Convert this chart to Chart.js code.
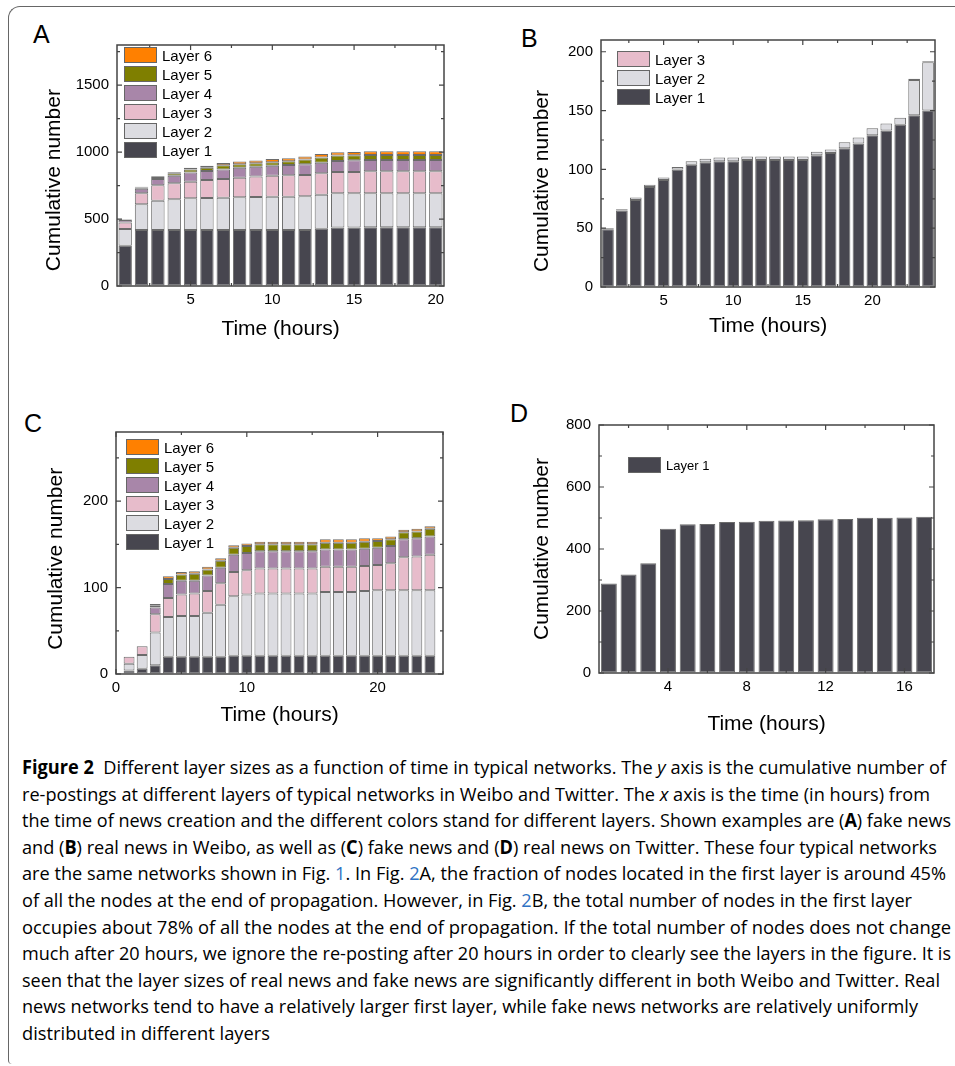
<!DOCTYPE html>
<html>
<head>
<meta charset="utf-8">
<title>Figure 2 - layer sizes over time</title>
<script src="https://cdn.jsdelivr.net/npm/chart.js@4.4.0/dist/chart.umd.min.js"></script>
<style>
    body { margin: 0; width: 955px; height: 1066px; background: #fff; position: relative; overflow: hidden;
           font-family: "Liberation Sans", Arial, sans-serif; color: #000; }
    /* rounded frame round the figure (left and top only) */
    .frame { position: absolute; left: 8px; top: 6px; width: 1000px; height: 1057px;
             border-left: 1px solid #666; border-top: 1px solid #666;
             border-top-left-radius: 12px; border-bottom-left-radius: 4px; }
    canvas { position: absolute; }
    .letter { position: absolute; font-size: 25px; line-height: 25px; }
    .legend { position: absolute; font-size: 15px; }
    .legend .row { height: 16px; margin-bottom: 3px; display: flex; align-items: center; white-space: nowrap; }
    .legend .box { width: 31px; height: 14px; border: 1px solid #666; margin-right: 5px; }
    .caption { position: absolute; left: 22px; top: 754px; font-family: "Open Sans", sans-serif;
               font-size: 19px; line-height: 26.6px; }
    .caption div { white-space: nowrap; width: max-content; transform-origin: left center; }
    .caption .blue { color: #2f72c4; }
</style>
</head>
<body>
<div class="frame"></div>

<div class="letter" style="left:33px; top:22px;">A</div>
<div class="letter" style="left:521px; top:26px;">B</div>
<div class="letter" style="left:24px; top:411px;">C</div>
<div class="letter" style="left:510px; top:401px;">D</div>

<canvas id="chartA" width="440" height="330" style="left:30px; top:20px;"></canvas>
<canvas id="chartB" width="440" height="332" style="left:515px; top:15px;"></canvas>
<canvas id="chartC" width="440" height="335" style="left:30px; top:405px;"></canvas>
<canvas id="chartD" width="440" height="345" style="left:515px; top:400px;"></canvas>

<div class="legend" id="legendA" style="left:124px; top:47px;"></div>
<div class="legend" id="legendB" style="left:617px; top:51px;"></div>
<div class="legend" id="legendC" style="left:126px; top:439px;"></div>
<div class="legend" id="legendD" style="left:628px; top:457px; font-size:13px;"></div>

<!-- data-w: printed width of each caption line -->
<div class="caption">
    <div data-w="924"><b>Figure 2</b>&nbsp; Different layer sizes as a function of time in typical networks. The <i>y</i> axis is the cumulative number of</div>
    <div data-w="908">re-postings at different layers of typical networks in Weibo and Twitter. The <i>x</i> axis is the time (in hours) from</div>
    <div data-w="929">the time of news creation and the different colors stand for different layers. Shown examples are (<b>A</b>) fake news</div>
    <div data-w="915">and (<b>B</b>) real news in Weibo, as well as (<b>C</b>) fake news and (<b>D</b>) real news on Twitter. These four typical networks</div>
    <div data-w="924">are the same networks shown in Fig. <span class="blue">1</span>. In Fig. <span class="blue">2</span>A, the fraction of nodes located in the first layer is around 45%</div>
    <div data-w="890">of all the nodes at the end of propagation. However, in Fig. <span class="blue">2</span>B, the total number of nodes in the first layer</div>
    <div data-w="929">occupies about 78% of all the nodes at the end of propagation. If the total number of nodes does not change</div>
    <div data-w="929">much after 20 hours, we ignore the re-posting after 20 hours in order to clearly see the layers in the figure. It is</div>
    <div data-w="918">seen that the layer sizes of real news and fake news are significantly different in both Weibo and Twitter. Real</div>
    <div data-w="896">news networks tend to have a relatively larger first layer, while fake news networks are relatively uniformly</div>
    <div data-w="248">distributed in different layers</div>
</div>

<script>
    // hours on the x axis of each panel
    const hoursA = [1,2,3,4,5,6,7,8,9,10,11,12,13,14,15,16,17,18,19,20];
    const hoursB = [1,2,3,4,5,6,7,8,9,10,11,12,13,14,15,16,17,18,19,20,21,22,23,24];
    const hoursC = [1,2,3,4,5,6,7,8,9,10,11,12,13,14,15,16,17,18,19,20,21,22,23,24];
    const hoursD = [1,2,3,4,5,6,7,8,9,10,11,12,13,14,15,16,17];

    // labelled ticks of each panel
    const xTicksA = [5, 10, 15, 20];
    const yTicksA = [0, 500, 1000, 1500];
    const xTicksB = [5, 10, 15, 20];
    const yTicksB = [0, 50, 100, 150, 200];
    const xTicksC = [0, 10, 20];
    const yTicksC = [0, 100, 200];
    const xTicksD = [4, 8, 12, 16];
    const yTicksD = [0, 200, 400, 600, 800];

    const layerNames = ['Layer 1', 'Layer 2', 'Layer 3', 'Layer 4', 'Layer 5', 'Layer 6'];
    const layerColors = ['#47464f', '#dcdce1', '#e7bccb', '#a886a9', '#7f7f00', '#ff8000'];

    // A: fake news in Weibo (size of each layer)
    const aLayer1 = [300,418,418,418,418,418,418,418,418,418,418,418,428,436,436,438,438,438,438,438];
    const aLayer2 = [126,192,219,229,237,239,242,244,247,249,249,252,254,256,256,254,254,254,254,254];
    const aLayer3 = [49,82,115,120,124,135,139,147,152,157,160,159,160,160,160,165,165,165,165,165];
    const aLayer4 = [18,34,47,57,68,67,72,75,74,75,77,80,79,82,87,84,84,84,84,84];
    const aLayer5 = [3,10,15,18,24,25,30,25,25,25,27,35,38,40,37,38,38,38,38,38];
    const aLayer6 = [2,6,5,7,13,15,18,20,22,24,24,24,26,25,25,27,27,27,27,27];

    // B: real news in Weibo
    const bLayer1 = [49,65,74,85,91,100,104,106,107,107,108,108,108,108,108,112,114,118,122,129,133,138,146,150];
    const bLayer2 = [1,1,2,2,2,2,3,3,3,3,3,3,3,3,3,3,3,5,5,6,6,6,30,41];
    const bLayer3 = [0,0,0,0,0,0,0,0,0,0,0,0,0,0,0,0,0,0,0,0,0,0,1,1];

    // C: fake news on Twitter
    const cLayer1 = [4,6,10,20,20,20,20,20,21,21,21,21,21,21,21,21,21,21,21,21,21,21,21,21];
    const cLayer2 = [8,16,38,46,47,47,51,60,69,71,72,72,72,72,72,74,74,74,75,76,76,76,76,76];
    const cLayer3 = [8,10,21,22,25,26,25,25,28,28,29,29,29,29,29,29,29,29,29,29,31,38,39,41];
    const cLayer4 = [0,0,8,16,16,15,18,18,20,20,20,20,20,20,20,20,20,20,20,20,20,21,21,21];
    const cLayer5 = [0,0,2,6,7,8,7,8,8,8,8,8,8,8,8,8,8,8,8,8,8,8,8,9];
    const cLayer6 = [0,0,2,3,3,3,3,3,3,3,3,3,3,3,3,4,4,4,4,3,3,3,3,3];

    // D: real news on Twitter
    const dLayer1 = [289,318,354,465,480,481,487,488,491,492,493,496,497,501,501,502,504];

    Chart.defaults.font.family = '"Liberation Sans", Arial, sans-serif';
    Chart.defaults.color = '#000';

    function isMajor(v, step) {
        return Math.abs(v / step - Math.round(v / step)) < 1e-6;
    }

    // box round the plot area with inward tick marks on all four sides
    const frame = {
        id: 'frame',
        afterDatasetsDraw(chart, args, o) {
            const {ctx, chartArea: a} = chart;
            const x = chart.scales.x, y = chart.scales.y;
            ctx.save();
            ctx.strokeStyle = '#444';
            ctx.lineWidth = 1.2;
            ctx.beginPath();
            for (let v = Math.ceil(x.min / o.xMinor) * o.xMinor; v <= x.max + 1e-6; v += o.xMinor) {
                const px = x.getPixelForValue(v);
                const len = isMajor(v, o.xMajor) ? 5 : 3;
                ctx.moveTo(px, a.bottom); ctx.lineTo(px, a.bottom - len);
                ctx.moveTo(px, a.top); ctx.lineTo(px, a.top + len);
            }
            for (let v = Math.ceil(y.min / o.yMinor) * o.yMinor; v <= y.max + 1e-6; v += o.yMinor) {
                const py = y.getPixelForValue(v);
                const len = isMajor(v, o.yMajor) ? 5 : 3;
                ctx.moveTo(a.left, py); ctx.lineTo(a.left + len, py);
                ctx.moveTo(a.right, py); ctx.lineTo(a.right - len, py);
            }
            ctx.stroke();
            ctx.lineWidth = 1.5;
            ctx.strokeRect(a.left, a.top, a.right - a.left, a.bottom - a.top);
            ctx.restore();
        }
    };

    function drawPanel(id, hours, layers, xTicks, yTicks, opt) {
        const datasets = layers.map((vals, i) => ({
            label: layerNames[i],
            data: vals.map((v, k) => ({x: hours[k], y: v})),
            backgroundColor: layerColors[i],
            borderColor: '#6b6b6b',
            borderWidth: 1,
            borderSkipped: false,
            barPercentage: opt.bar,
            categoryPercentage: 1
        }));

        new Chart(document.getElementById(id), {
            type: 'bar',
            data: { datasets: datasets },
            options: {
                responsive: false,
                animation: false,
                events: [],
                layout: { padding: { top: opt.padTop, right: opt.padRight, bottom: 0, left: 0 } },
                plugins: {
                    legend: { display: false },
                    tooltip: { enabled: false },
                    frame: { xMajor: opt.xStep, xMinor: opt.xStep / 2, yMajor: opt.yStep, yMinor: opt.yStep / 2 }
                },
                scales: {
                    x: {
                        type: 'linear', stacked: true, offset: false,
                        min: opt.xMin, max: opt.xMax,
                        grid: { drawOnChartArea: false, drawTicks: false },
                        border: { display: false },
                        afterBuildTicks: s => { s.ticks = xTicks.map(v => ({ value: v })); },
                        ticks: { padding: 5, font: { size: 15 }, callback: v => String(v) },
                        title: { display: true, text: 'Time (hours)', font: { size: 21 },
                                 padding: { top: 0, bottom: opt.xTitlePad } },
                        afterFit: s => { s.height = opt.xHeight; }
                    },
                    y: {
                        stacked: true,
                        min: 0, max: opt.yMax,
                        grid: { drawOnChartArea: false, drawTicks: false },
                        border: { display: false },
                        afterBuildTicks: s => { s.ticks = yTicks.map(v => ({ value: v })); },
                        ticks: { padding: 8, font: { size: 15 }, callback: v => String(v) },
                        // trailing no-break spaces nudge the centred title down the axis
                        title: { display: true, text: 'Cumulative number' + '\u00a0'.repeat(opt.yTitleShift),
                                 font: { size: 21 }, padding: { top: opt.yTitlePad, bottom: 0 } },
                        afterFit: s => { s.width = opt.yWidth; }
                    }
                }
            },
            plugins: [frame]
        });
    }

    // legend boxes, highest layer on top
    function drawLegend(id, count) {
        const el = document.getElementById(id);
        for (let i = count - 1; i >= 0; i--) {
            el.innerHTML += '<div class="row"><span class="box" style="background:' + layerColors[i] +
                '"></span>' + layerNames[i] + '</div>';
        }
    }

    drawPanel('chartA', hoursA, [aLayer1, aLayer2, aLayer3, aLayer4, aLayer5, aLayer6], xTicksA, yTicksA, {
        xMin: 0.5, xMax: 20.5, xStep: 5, yMax: 1800, yStep: 500, bar: 0.82,
        padTop: 25, padRight: 26, yWidth: 87, xHeight: 64, yTitlePad: 12, xTitlePad: 8, yTitleShift: 5
    });
    drawPanel('chartB', hoursB, [bLayer1, bLayer2, bLayer3], xTicksB, yTicksB, {
        xMin: 0.5, xMax: 24.5, xStep: 5, yMax: 210, yStep: 50, bar: 0.84,
        padTop: 25, padRight: 20, yWidth: 86, xHeight: 60, yTitlePad: 15, xTitlePad: 8, yTitleShift: 6
    });
    drawPanel('chartC', hoursC, [cLayer1, cLayer2, cLayer3, cLayer4, cLayer5, cLayer6], xTicksC, yTicksC, {
        xMin: 0, xMax: 25, xStep: 10, yMax: 280, yStep: 100, bar: 0.83,
        padTop: 27, padRight: 27, yWidth: 86, xHeight: 66, yTitlePad: 14, xTitlePad: 12, yTitleShift: 2
    });
    drawPanel('chartD', hoursD, [dLayer1], xTicksD, yTicksD, {
        xMin: 0.5, xMax: 17.5, xStep: 4, yMax: 800, yStep: 200, bar: 0.81,
        padTop: 25, padRight: 21, yWidth: 84, xHeight: 72, yTitlePad: 15, xTitlePad: 8, yTitleShift: 0
    });

    drawLegend('legendA', 6);
    drawLegend('legendB', 3);
    drawLegend('legendC', 6);
    drawLegend('legendD', 1);

    // squeeze each caption line to the width it has in print
    document.querySelectorAll('.caption div').forEach(l => {
        const k = Number(l.dataset.w) / l.getBoundingClientRect().width;
        l.style.transform = 'scaleX(' + k + ')';
    });
</script>
</body>
</html>
